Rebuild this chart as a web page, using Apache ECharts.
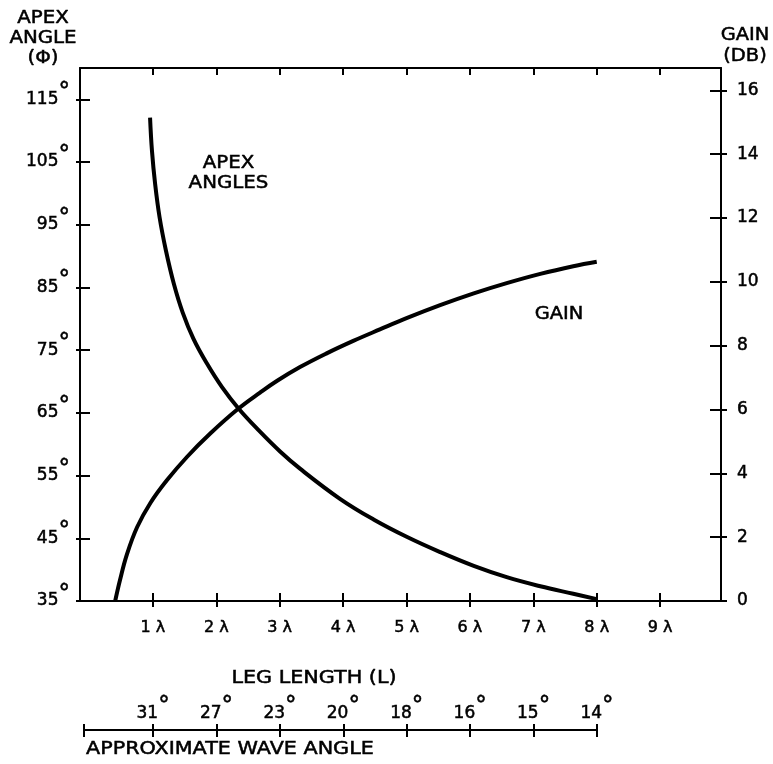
<!DOCTYPE html>
<html>
<head>
<meta charset="utf-8">
<script src="https://cdn.jsdelivr.net/npm/echarts@6.0.0/dist/echarts.min.js"></script>
<style>
  html, body { margin: 0; padding: 0; background: #fff; }
  #chart { width: 773px; height: 764px; }
</style>
</head>
<body>
<div id="chart"></div>
<script>
// ---- data ----
const legTicks = [1, 2, 3, 4, 5, 6, 7, 8, 9];
const apexTicks = [35, 45, 55, 65, 75, 85, 95, 105, 115];
const gainTicks = [0, 2, 4, 6, 8, 10, 12, 14, 16];
const waveTickPos = [1, 2, 3, 4, 5, 6, 7, 8];
const waveAngles = [31, 27, 23, 20, 18, 16, 15, 14];

const apexL   = [0.955, 0.985, 1.035, 1.105, 1.205, 1.33, 1.47, 1.64, 1.85, 2.09, 2.35, 2.67, 3.01, 3.32, 3.95, 4.48, 5.01, 5.53, 6.06, 6.58, 7.11, 7.63, 8.0];
const apexDeg = [112.1, 106.8, 101.5, 96.2, 90.9, 85.6, 81.0, 76.8, 72.9, 69.1, 65.7, 62.2, 58.8, 56.1, 51.3, 48.0, 45.2, 42.8, 40.6, 38.8, 37.35, 36.15, 35.3];

const gainL  = [0.405, 0.48, 0.59, 0.75, 0.96, 1.22, 1.54, 1.90, 2.35, 2.69, 2.96, 3.32, 3.74, 4.16, 4.58, 5.01, 5.53, 6.06, 6.58, 7.11, 7.63, 8.0];
const gainDb = [0, 0.65, 1.46, 2.31, 3.07, 3.78, 4.52, 5.24, 6.03, 6.53, 6.90, 7.33, 7.76, 8.15, 8.51, 8.87, 9.27, 9.64, 9.96, 10.25, 10.49, 10.63];

// ---- chart ----
const FONT = '"DejaVu Sans", "Liberation Sans", sans-serif';
const INK = '#000';
const chart = echarts.init(document.getElementById('chart'), null, { renderer: 'canvas' });

const axLine = { show: true, onZero: false, lineStyle: { color: INK, width: 2 } };
const noLine = { show: false, onZero: false };
const tickStyle = { color: INK, width: 2 };
const bold = { textBorderColor: INK, textBorderWidth: 0.5 };
const degRich = {
  n: Object.assign({ fontSize: 17, fontFamily: FONT, color: INK, padding: [10, 0, 0, 0] }, bold),
  d: Object.assign({ fontSize: 23, fontFamily: FONT, color: INK, verticalAlign: 'top' }, bold)
};

const X_MIN = -0.15, X_MAX = 9.96;

const option = {
  animation: false,
  backgroundColor: '#fff',
  grid: [
    { left: 80, right: 52, top: 68, bottom: 163 },
    { left: 84, width: 513, top: 730, height: 20 }
  ],
  xAxis: [
    { // main bottom axis, outward ticks + labels
      gridIndex: 0, type: 'value', position: 'bottom', min: X_MIN, max: X_MAX,
      axisLine: axLine,
      axisTick: { show: true, inside: false, length: 6, customValues: legTicks, lineStyle: tickStyle },
      axisLabel: Object.assign({ show: true, customValues: legTicks, margin: 19, fontSize: 16, fontFamily: FONT, color: INK,
                   formatter: v => v + ' λ' }, bold),
      splitLine: { show: false }
    },
    { // inward ticks at the bottom
      gridIndex: 0, type: 'value', position: 'bottom', min: X_MIN, max: X_MAX,
      axisLine: noLine,
      axisTick: { show: true, inside: true, length: 8, customValues: legTicks, lineStyle: tickStyle },
      axisLabel: { show: false }, splitLine: { show: false }
    },
    { // top frame with inward ticks
      gridIndex: 0, type: 'value', position: 'top', min: X_MIN, max: X_MAX,
      axisLine: axLine,
      axisTick: { show: true, inside: true, length: 7, customValues: legTicks, lineStyle: tickStyle },
      axisLabel: { show: false }, splitLine: { show: false }
    },
    { // wave angle scale
      gridIndex: 1, type: 'value', position: 'top', min: -0.09, max: 8,
      axisLine: axLine,
      axisTick: { show: true, inside: false, length: 6, customValues: [-0.09].concat(waveTickPos), lineStyle: tickStyle },
      axisLabel: { show: true, customValues: waveTickPos, margin: 8,
                   formatter: v => '{n|' + waveAngles[Math.round(v) - 1] + '}{d|°}', rich: degRich },
      splitLine: { show: false }
    },
    {
      gridIndex: 1, type: 'value', position: 'top', min: -0.09, max: 8,
      axisLine: noLine,
      axisTick: { show: true, inside: true, length: 7, customValues: [-0.09].concat(waveTickPos), lineStyle: tickStyle },
      axisLabel: { show: false }, splitLine: { show: false }
    }
  ],
  yAxis: [
    { // apex angle, left
      gridIndex: 0, type: 'value', position: 'left', min: 35, max: 120,
      axisLine: axLine,
      axisTick: { show: true, inside: false, length: 4, customValues: apexTicks, lineStyle: tickStyle },
      axisLabel: { show: true, customValues: apexTicks, margin: 10, padding: [0, 0, 10, 0],
                   formatter: v => '{n|' + v + '}{d|°}', rich: degRich },
      splitLine: { show: false }
    },
    {
      gridIndex: 0, type: 'value', position: 'left', min: 35, max: 120,
      axisLine: noLine,
      axisTick: { show: true, inside: true, length: 10, customValues: apexTicks, lineStyle: tickStyle },
      axisLabel: { show: false }, splitLine: { show: false }
    },
    { // gain, right
      gridIndex: 0, type: 'value', position: 'right', min: 0, max: 16.7,
      axisLine: axLine,
      axisTick: { show: true, inside: false, length: 6, customValues: gainTicks, lineStyle: tickStyle },
      axisLabel: Object.assign({ show: true, customValues: gainTicks, margin: 16, fontSize: 17, fontFamily: FONT, color: INK }, bold),
      splitLine: { show: false }
    },
    {
      gridIndex: 0, type: 'value', position: 'right', min: 0, max: 16.7,
      axisLine: noLine,
      axisTick: { show: true, inside: true, length: 11, customValues: gainTicks, lineStyle: tickStyle },
      axisLabel: { show: false }, splitLine: { show: false }
    },
    { gridIndex: 1, type: 'value', show: false, min: 0, max: 1 }
  ],
  series: [
    {
      name: 'APEX ANGLES', type: 'line', xAxisIndex: 0, yAxisIndex: 0,
      data: apexL.map((x, i) => [x, apexDeg[i]]),
      smooth: 0.4, symbol: 'none', clip: false,
      lineStyle: { color: INK, width: 4 }
    },
    {
      name: 'GAIN', type: 'line', xAxisIndex: 0, yAxisIndex: 2,
      data: gainL.map((x, i) => [x, gainDb[i]]),
      smooth: 0.4, symbol: 'none', clip: false,
      lineStyle: { color: INK, width: 4 }
    }
  ],
  graphic: [
    { type: 'text', x: 43, y: 8.5, scaleX: 1.1,
      style: { text: 'APEX\nANGLE\n(Φ)', textAlign: 'center', textVerticalAlign: 'top', lineHeight: 20,
               font: '18px ' + FONT, fill: INK, stroke: INK, lineWidth: 0.5 } },
    { type: 'text', x: 745, y: 24.5, scaleX: 1.08,
      style: { text: 'GAIN\n(DB)', textAlign: 'center', textVerticalAlign: 'top', lineHeight: 21,
               font: '18px ' + FONT, fill: INK, stroke: INK, lineWidth: 0.5 } },
    { type: 'text', x: 228.5, y: 153.5, scaleX: 1.1,
      style: { text: 'APEX\nANGLES', textAlign: 'center', textVerticalAlign: 'top', lineHeight: 20,
               font: '18px ' + FONT, fill: INK, stroke: INK, lineWidth: 0.5 } },
    { type: 'text', x: 559, y: 314, scaleX: 1.08,
      style: { text: 'GAIN', textAlign: 'center', textVerticalAlign: 'middle',
               font: '18px ' + FONT, fill: INK, stroke: INK, lineWidth: 0.5 } },
    { type: 'text', x: 314, y: 678, scaleX: 1.15,
      style: { text: 'LEG LENGTH (L)', textAlign: 'center', textVerticalAlign: 'middle',
               font: '18px ' + FONT, fill: INK, stroke: INK, lineWidth: 0.5 } },
    { type: 'text', x: 86, y: 749.5, scaleX: 1.15,
      style: { text: 'APPROXIMATE WAVE ANGLE', textAlign: 'left', textVerticalAlign: 'middle',
               font: '18px ' + FONT, fill: INK, stroke: INK, lineWidth: 0.5 } }
  ]
};
chart.setOption(option);
</script>
</body>
</html>
